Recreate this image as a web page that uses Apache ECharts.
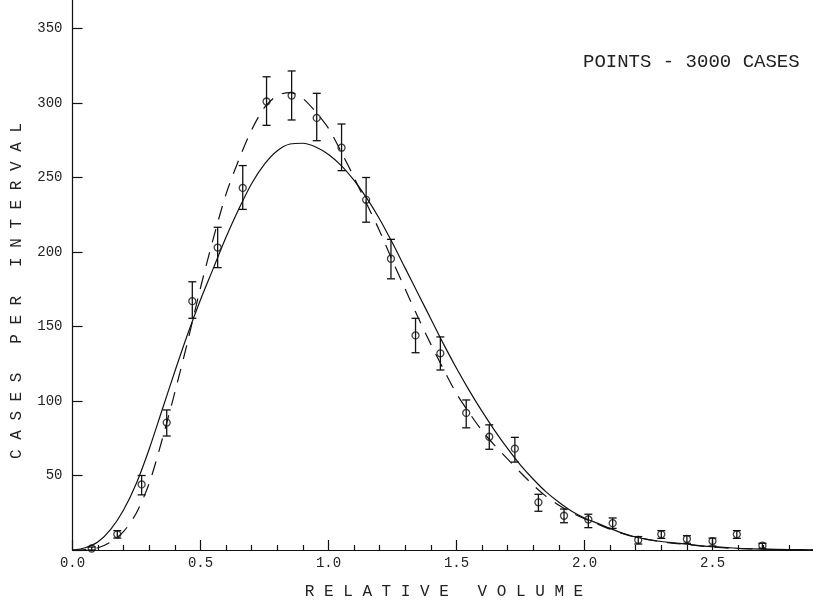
<!DOCTYPE html>
<html>
<head>
<meta charset="utf-8">
<script src="https://cdn.jsdelivr.net/npm/echarts@6.0.0/dist/echarts.min.js"></script>
<style>
  html, body { margin: 0; padding: 0; background: #fff; }
  #chart { width: 813px; height: 604px; }
</style>
</head>
<body>
<div id="chart"></div>
<script>
// measured points (relative volume, cases per interval) with error bar ends
var pointX = [0.075, 0.175, 0.27, 0.368, 0.468, 0.567, 0.665, 0.758, 0.856, 0.954,
              1.051, 1.147, 1.244, 1.34, 1.437, 1.538, 1.628, 1.728, 1.82, 1.92,
              2.015, 2.11, 2.21, 2.30, 2.40, 2.50, 2.595, 2.695];
var pointY = [1, 10.5, 44, 85.5, 167, 203, 243, 301, 305, 290,
              270, 235, 195.5, 144, 132, 92, 76, 68, 32, 23,
              20.5, 18, 6.7, 10.5, 7.4, 6, 10.5, 3];
var errLow = [0, 8, 37, 76.5, 155.5, 189.5, 228.6, 285, 288.6, 274.7,
              254.6, 220, 182, 132.4, 120.8, 82, 67.6, 59, 26, 18.3,
              15, 14.5, 4, 7.8, 4.5, 2.7, 7.8, 1.1];
var errHigh = [2, 13, 50, 94, 180, 216.6, 258, 317.6, 321.5, 306.5,
               285.9, 250, 208.5, 155.5, 143, 100.7, 84, 75.6, 37.4, 27.5,
               24, 21.5, 9, 13, 9.6, 8, 13, 4.5];

// fitted curves, sampled on the same x values
var curveX = [0, 0.05, 0.1, 0.15, 0.2, 0.25, 0.3, 0.35, 0.4, 0.45,
              0.5, 0.55, 0.6, 0.65, 0.7, 0.75, 0.8, 0.85, 0.9, 0.95,
              1.0, 1.05, 1.1, 1.15, 1.2, 1.25, 1.3, 1.35, 1.4, 1.45,
              1.5, 1.55, 1.6, 1.65, 1.7, 1.75, 1.8, 1.85, 1.9, 1.95,
              2.0, 2.05, 2.1, 2.15, 2.2, 2.25, 2.3, 2.35, 2.4, 2.45,
              2.5, 2.6, 2.7, 2.8, 2.9, 3.0];
var solidY = [0, 1.5, 5.5, 14, 27, 45, 68, 94, 120, 145,
              168, 189, 210, 229, 246, 259, 268, 272.5, 273, 270.5,
              265.5, 258, 248, 236, 222, 206, 189, 172, 155, 138,
              122, 107, 93, 80, 68, 57, 47.5, 39, 32, 26,
              21.5, 18, 14.5, 11.2, 8.7, 7, 5.7, 4.8, 4, 3,
              2.2, 1.1, 0.6, 0.3, 0.1, 0];
var dashY = [0, 0.3, 1.5, 5.5, 12.5, 25, 45, 74, 106, 140,
             176, 209, 239, 262, 282, 297, 305, 307, 303, 294,
             283, 267, 250, 232, 214, 194, 175, 156, 138, 121,
             105, 92, 80, 70, 61, 52, 43.5, 36, 30, 25,
             21, 17.5, 14, 11, 8.5, 7, 5.5, 4.5, 3.6, 2.8,
             2, 1, 0.5, 0.2, 0.1, 0];

var ink = '#111';
var mono = '"Liberation Mono", "DejaVu Sans Mono", monospace';

function pairs(xs, ys) {
    return xs.map(function (x, i) { return [x, ys[i]]; });
}

var errData = pointX.map(function (x, i) { return [x, errLow[i], errHigh[i]]; });

var myChart = echarts.init(document.getElementById('chart'));

var option = {
    animation: false,
    backgroundColor: '#fff',
    grid: {
        left: 72.5, top: -46, width: 768, height: 596,
        containLabel: false, outerBoundsMode: 'none'
    },
    xAxis: {
        type: 'value', min: 0, max: 3, interval: 0.5,
        axisLine: { lineStyle: { color: ink, width: 1.2 } },
        axisTick: { inside: true, length: 10, lineStyle: { color: ink, width: 1.2 } },
        minorTick: { show: true, splitNumber: 5, length: 5, lineStyle: { color: ink, width: 1.2 } },
        axisLabel: {
            margin: 6, color: '#222', fontFamily: mono, fontSize: 14,
            formatter: function (v) { return v.toFixed(1); }
        },
        splitLine: { show: false }
    },
    yAxis: {
        type: 'value', min: 0, max: 400, interval: 50,
        axisLine: { show: true, lineStyle: { color: ink, width: 1.2 } },
        axisTick: { show: true, inside: true, length: 10, lineStyle: { color: ink, width: 1.2 } },
        axisLabel: {
            margin: 10, color: '#222', fontFamily: mono, fontSize: 14,
            formatter: function (v) { return v === 0 ? '' : String(v); }
        },
        splitLine: { show: false }
    },
    graphic: [
        {
            type: 'text', left: 583, top: 52,
            style: { text: 'POINTS - 3000 CASES', font: '19px ' + mono, fill: '#222' }
        },
        {
            type: 'text', x: 444, y: 592,
            style: { text: 'R E L A T I V E   V O L U M E', font: '16px ' + mono, fill: '#222',
                     align: 'center', verticalAlign: 'middle' }
        },
        {
            type: 'text', x: 17, y: 291, rotation: Math.PI / 2,
            style: { text: 'C A S E S   P E R   I N T E R V A L', font: '16px ' + mono, fill: '#222',
                     align: 'center', verticalAlign: 'middle' }
        }
    ],
    series: [
        {
            type: 'line', data: pairs(curveX, solidY), smooth: 0.3,
            symbol: 'none', lineStyle: { color: ink, width: 1.2 }
        },
        {
            type: 'line', data: pairs(curveX, dashY), smooth: 0.3,
            symbol: 'none', lineStyle: { color: ink, width: 1.2, type: [14, 10] }
        },
        {
            type: 'custom',
            encode: { x: 0, y: [1, 2] },
            data: errData,
            renderItem: function (params, api) {
                var x = api.value(0);
                var lo = api.coord([x, api.value(1)]);
                var hi = api.coord([x, api.value(2)]);
                var w = 4;
                var st = { stroke: ink, lineWidth: 1.3 };
                return {
                    type: 'group',
                    children: [
                        { type: 'line', shape: { x1: lo[0], y1: lo[1], x2: hi[0], y2: hi[1] }, style: st },
                        { type: 'line', shape: { x1: hi[0] - w, y1: hi[1], x2: hi[0] + w, y2: hi[1] }, style: st },
                        { type: 'line', shape: { x1: lo[0] - w, y1: lo[1], x2: lo[0] + w, y2: lo[1] }, style: st }
                    ]
                };
            }
        },
        {
            type: 'scatter', data: pairs(pointX, pointY),
            symbol: 'circle', symbolSize: 7,
            itemStyle: { color: 'rgba(0,0,0,0)', borderColor: ink, borderWidth: 1.3 }
        }
    ]
};

myChart.setOption(option);
</script>
</body>
</html>
